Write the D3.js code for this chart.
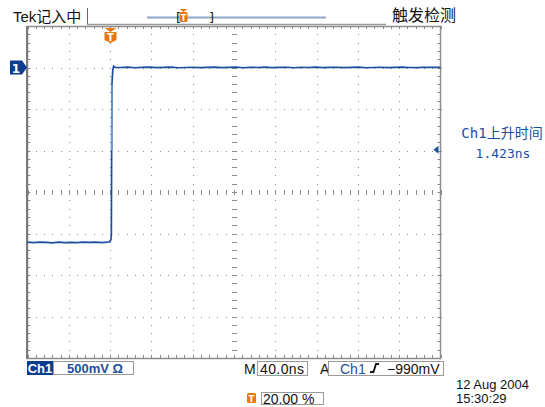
<!DOCTYPE html>
<html><head><meta charset="utf-8">
<script src="https://cdn.jsdelivr.net/npm/d3@7"></script>
<style>body{margin:0;background:#fff}svg{display:block}</style>
</head><body>
<script>
// ---- data ----
const timeNs = [-80,-74,-68,-62,-56,-50,-44,-38,-32,-26,-20,-14,-8,-3,-0.5,0.8,1.2,1.5,1.8,2.6,3.5,5,
  10,17,24,31,38,45,52,59,66,73,80,87,94,101,108,115,122,129,136,143,150,157,164,171,178,185,192,199,206,213,220,227,234,241,248,255,262,269,276,283,290,297,304,311,320];
const voltsV = [-2.105,-2.110,-2.103,-2.108,-2.112,-2.104,-2.109,-2.106,-2.111,-2.103,-2.108,-2.105,-2.110,-2.104,-2.100,-2.075,-2.02,-1.00,-0.20,-0.03,0.015,0.002,
  0.000,0.004,-0.003,0.002,0.005,-0.002,0.001,0.004,-0.003,0.000,0.003,-0.002,0.002,0.005,-0.001,0.001,0.004,-0.003,0.002,0.000,0.004,-0.002,0.001,0.003,-0.003,0.002,0.000,0.004,-0.002,0.001,0.003,-0.001,0.002,0.004,-0.003,0.000,0.003,-0.002,0.001,0.004,0.000,-0.002,0.003,0.001,0.002];
const timeDomain = [-80, 320];     // 40 ns/div, 10 div, trigger at 20 %
const voltDomain = [-3.5, 0.5];    // 500 mV/div, 8 div, ground 1 div below top
const groundLevel = 0;
const triggerLevel = -0.99;
const triggerTime = 0;
const headerLeft = "Tek记入中";
const headerRight = "触发检测";
const measureLines = ["Ch1上升时间", "1.423ns"];
const statusTexts = ["Ch1", "500mV Ω", "M", "40.0ns", "A", "Ch1", "−990mV", "20.00 %"];
const dateLines = ["12 Aug 2004", "15:30:29"];

// ---- drawing ----
const W = 545, H = 407;
const svg = d3.select("body").append("svg").attr("width", W).attr("height", H);
const L = 27.5, R = 440.5, T = 26, B = 358;
const x = d3.scaleLinear().domain(timeDomain).range([L, R]);
const y = d3.scaleLinear().domain(voltDomain).range([B, T]);
const xDiv = (timeDomain[1]-timeDomain[0])/10, yDiv = (voltDomain[1]-voltDomain[0])/8;
const xMinor = d3.range(timeDomain[0], timeDomain[1]+0.001, xDiv/5);
const yMinor = d3.range(voltDomain[0], voltDomain[1]+0.001, yDiv/5);
const xMajor = d3.range(1, 10).map(i => timeDomain[0] + i*xDiv);
const yMajor = d3.range(1, 8).map(i => voltDomain[0] + i*yDiv);
const xc = timeDomain[0] + 5*xDiv, yc = voltDomain[0] + 4*yDiv;
const gridCol = "#8a8a8a";

const g = svg.append("g");
// dotted grid
xMajor.filter(v => Math.abs(v-xc) > 1e-6).forEach(xv => {
  g.selectAll(null).data(yMinor).enter().append("rect")
    .attr("x", Math.round(x(xv))).attr("y", d => Math.round(y(d))).attr("width", 1).attr("height", 1).attr("fill", gridCol);
});
yMajor.filter(v => Math.abs(v-yc) > 1e-6).forEach(yv => {
  g.selectAll(null).data(xMinor).enter().append("rect")
    .attr("x", d => Math.round(x(d))).attr("y", Math.round(y(yv))).attr("width", 1).attr("height", 1).attr("fill", gridCol);
});
// center cross ticks
g.selectAll(null).data(xMinor).enter().append("line")
  .attr("x1", d => Math.round(x(d))+0.5).attr("x2", d => Math.round(x(d))+0.5)
  .attr("y1", Math.round(y(yc))-2).attr("y2", Math.round(y(yc))+3).attr("stroke", gridCol);
g.selectAll(null).data(yMinor).enter().append("line")
  .attr("y1", d => Math.round(y(d))+0.5).attr("y2", d => Math.round(y(d))+0.5)
  .attr("x1", Math.round(x(xc))-2).attr("x2", Math.round(x(xc))+3).attr("stroke", gridCol);
g.selectAll(null).data(xMinor).enter().append("rect")
  .attr("x", d => Math.round(x(d))).attr("y", Math.round(y(yc))).attr("width",1).attr("height",1).attr("fill", gridCol);
// edge ticks
g.selectAll(null).data(xMinor).enter().append("line")
  .attr("x1", d => Math.round(x(d))+0.5).attr("x2", d => Math.round(x(d))+0.5)
  .attr("y1", T).attr("y2", T+3).attr("stroke", gridCol);
g.selectAll(null).data(xMinor).enter().append("line")
  .attr("x1", d => Math.round(x(d))+0.5).attr("x2", d => Math.round(x(d))+0.5)
  .attr("y1", B-3).attr("y2", B).attr("stroke", gridCol);
g.selectAll(null).data(yMinor).enter().append("line")
  .attr("y1", d => Math.round(y(d))+0.5).attr("y2", d => Math.round(y(d))+0.5)
  .attr("x1", L).attr("x2", L+3).attr("stroke", gridCol);
g.selectAll(null).data(yMinor).enter().append("line")
  .attr("y1", d => Math.round(y(d))+0.5).attr("y2", d => Math.round(y(d))+0.5)
  .attr("x1", R-3).attr("x2", R).attr("stroke", gridCol);
// frame
g.append("rect").attr("x", L).attr("y", T+0.5).attr("width", R-L).attr("height", B-T)
  .attr("fill", "none").attr("stroke", "#8c8c8c").attr("stroke-width", 1.5);
g.append("line").attr("x1", L-0.5).attr("x2", L-0.5).attr("y1", T).attr("y2", B+1).attr("stroke", "#7a7a7a").attr("stroke-width", 2);

// waveform
const pts = timeNs.map((t, i) => [t, voltsV[i]]);
const line = d3.line().x(d => x(d[0])).y(d => y(d[1]));
svg.append("path").attr("d", line(pts)).attr("fill", "none")
  .attr("stroke", "#1c4f9e").attr("stroke-width", 1.7);
// lighter upper part of the fast edge
const edge = pts.filter(d => d[0] >= 1.5 && d[0] <= 1.8);
svg.append("path").attr("d", line(edge)).attr("fill", "none")
  .attr("stroke", "#6f9bd6").attr("stroke-width", 1.4);

// ground marker "1"
const gy = y(groundLevel);
svg.append("path").attr("d", `M10,${gy-7}H22L27,${gy}L22,${gy+7}H10Z`).attr("fill", "#0b3c8f");
svg.append("text").attr("x", 16).attr("y", gy+5).attr("text-anchor", "middle")
  .attr("font-family", "DejaVu Sans").attr("font-weight", "bold").attr("font-size", 12).attr("fill", "#fff").text("1");

// trigger level arrow (right)
const ty = y(triggerLevel);
svg.append("path").attr("d", `M${R-7},${ty}L${R-2},${ty-4}V${ty+4}Z`).attr("fill", "#1c4f9e");

// trigger position marker
function tMarker(cx, top, s) {
  const gg = svg.append("g");
  gg.append("path").attr("d", `M${cx-6*s},${top}H${cx+6*s}L${cx},${top+4*s}Z`).attr("fill", "#e8780c");
  gg.append("path").attr("d", `M${cx-6*s},${top+4*s}H${cx+6*s}V${top+12*s}L${cx},${top+15*s}L${cx-6*s},${top+12*s}Z`).attr("fill", "#e8780c");
  gg.append("text").attr("x", cx).attr("y", top+13*s).attr("text-anchor", "middle")
    .attr("font-family", "DejaVu Sans").attr("font-weight", "bold").attr("font-size", 10*s).attr("fill", "#fff").text("T");
}
tMarker(Math.round(x(triggerTime))+0.5, 28, 1);

// header
const cjk = "'Liberation Sans','Noto Sans CJK SC',sans-serif";
svg.append("text").attr("x", 13).attr("y", 22).attr("font-family", cjk).attr("font-size", 15).attr("fill", "#111").text(headerLeft);
svg.append("line").attr("x1", 87.5).attr("x2", 87.5).attr("y1", 8).attr("y2", 25).attr("stroke", "#666");
svg.append("line").attr("x1", 87).attr("x2", 386).attr("y1", 24.5).attr("y2", 24.5).attr("stroke", "#9a9a9a").attr("stroke-width", 1.5);
svg.append("line").attr("x1", 147).attr("x2", 326).attr("y1", 17.5).attr("y2", 17.5).attr("stroke", "#8ea5c8").attr("stroke-width", 2);
svg.append("text").attr("x", 176).attr("y", 22).attr("font-family", "DejaVu Sans").attr("font-size", 13).attr("fill", "#222").text("[");
svg.append("text").attr("x", 209).attr("y", 22).attr("font-family", "DejaVu Sans").attr("font-size", 13).attr("fill", "#222").text("]");
(function(){ const cx = 183.5, top = 9;
  svg.append("path").attr("d", `M${cx-4},${top}H${cx+4}L${cx},${top+3}Z`).attr("fill", "#e8780c");
  svg.append("rect").attr("x", cx-4).attr("y", top+3).attr("width", 8).attr("height", 10).attr("rx", 1.5).attr("fill", "#e8780c");
  svg.append("text").attr("x", cx).attr("y", top+11.5).attr("text-anchor", "middle").attr("font-family", "DejaVu Sans")
    .attr("font-weight", "bold").attr("font-size", 8).attr("fill", "#fff").text("T");
})();
svg.append("text").attr("x", 392).attr("y", 21).attr("font-family", cjk).attr("font-size", 16).attr("fill", "#111").text(headerRight);

// measurement readout
const mono = "'DejaVu Sans Mono','Noto Sans CJK SC',monospace";
svg.append("text").attr("x", 502).attr("y", 138).attr("text-anchor", "middle").attr("font-family", mono).attr("font-size", 14).attr("fill", "#1c4f9e").text(measureLines[0]);
svg.append("text").attr("x", 503).attr("y", 158).attr("text-anchor", "middle").attr("font-family", mono).attr("font-size", 13).attr("fill", "#1c4f9e").text(measureLines[1]);

// status bar
const sf = "'Liberation Sans',sans-serif";
svg.append("rect").attr("x", 27).attr("y", 361).attr("width", 26).attr("height", 14).attr("fill", "#0b3c8f");
svg.append("text").attr("x", 40).attr("y", 373).attr("text-anchor", "middle").attr("font-family", sf).attr("font-weight", "bold").attr("font-size", 13).attr("fill", "#fff").text(statusTexts[0]);
svg.append("rect").attr("x", 53.5).attr("y", 361.5).attr("width", 80).attr("height", 13).attr("fill", "#fff").attr("stroke", "#999");
svg.append("text").attr("x", 67).attr("y", 373).attr("font-family", sf).attr("font-weight", "bold").attr("font-size", 13).attr("fill", "#1c4f9e").text(statusTexts[1]);
svg.append("text").attr("x", 244).attr("y", 374).attr("font-family", sf).attr("font-size", 14).attr("fill", "#111").text(statusTexts[2]);
svg.append("rect").attr("x", 257.5).attr("y", 361.5).attr("width", 50).attr("height", 14).attr("fill", "#fff").attr("stroke", "#999");
svg.append("text").attr("x", 260).attr("y", 374).attr("font-family", sf).attr("font-size", 14).attr("letter-spacing", 0.4).attr("fill", "#111").text(statusTexts[3]);
svg.append("text").attr("x", 320).attr("y", 374).attr("font-family", sf).attr("font-size", 14).attr("fill", "#111").text(statusTexts[4]);
svg.append("rect").attr("x", 328.5).attr("y", 361.5).attr("width", 115).attr("height", 14).attr("fill", "#fff").attr("stroke", "#999");
svg.append("text").attr("x", 340).attr("y", 374).attr("font-family", sf).attr("font-size", 14).attr("fill", "#1c4f9e").text(statusTexts[5]);
svg.append("path").attr("d", "M370,372H373.5L376,364H379").attr("fill", "none").attr("stroke", "#111").attr("stroke-width", 1.8);
svg.append("text").attr("x", 387).attr("y", 374).attr("font-family", sf).attr("font-size", 14).attr("fill", "#111").text(statusTexts[6]);
// trigger position readout
svg.append("rect").attr("x", 247).attr("y", 393).attr("width", 9).attr("height", 10).attr("rx", 1.5).attr("fill", "#e8780c");
svg.append("text").attr("x", 251.5).attr("y", 401.5).attr("text-anchor", "middle").attr("font-family", "DejaVu Sans").attr("font-weight", "bold").attr("font-size", 8.5).attr("fill", "#fff").text("T");
svg.append("rect").attr("x", 261.5).attr("y", 392.5).attr("width", 62).attr("height", 12).attr("fill", "#fff").attr("stroke", "#999");
svg.append("text").attr("x", 263).attr("y", 404).attr("font-family", sf).attr("font-size", 14).attr("fill", "#111").text(statusTexts[7]);
// date
svg.append("text").attr("x", 456).attr("y", 389).attr("font-family", sf).attr("font-size", 13).attr("fill", "#111").text(dateLines[0]);
svg.append("text").attr("x", 456).attr("y", 403).attr("font-family", sf).attr("font-size", 13).attr("fill", "#111").text(dateLines[1]);
</script>
</body></html>
